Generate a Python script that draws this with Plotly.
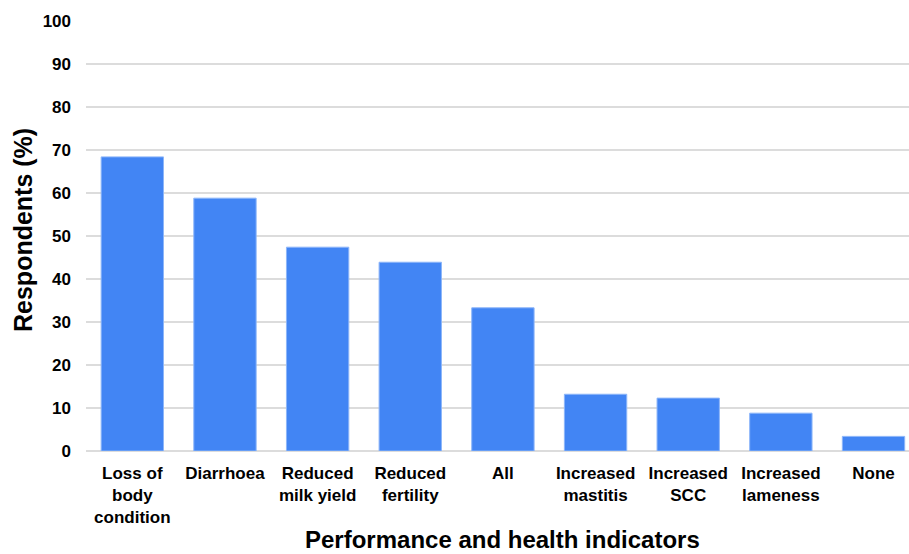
import plotly.graph_objects as go

# Share of respondents naming each performance/health indicator
categories = [
    "Loss of<br>body<br>condition",
    "Diarrhoea",
    "Reduced<br>milk yield",
    "Reduced<br>fertility",
    "All",
    "Increased<br>mastitis",
    "Increased<br>SCC",
    "Increased<br>lameness",
    "None",
]
respondents_pct = [68.4, 58.8, 47.4, 43.9, 33.3, 13.2, 12.3, 8.8, 3.4]
y_ticks = [0, 10, 20, 30, 40, 50, 60, 70, 80, 90, 100]

FONT = "Liberation Sans, Arial, Helvetica, sans-serif"
BAR_BLUE = "#4285F4"
GRID = "#dcdcdc"

fig = go.Figure(
    go.Bar(
        x=list(range(len(categories))),
        y=respondents_pct,
        width=0.673,
        marker=dict(color=BAR_BLUE, line=dict(color="#8DB6F9", width=1)),
        hoverinfo="y",
    )
)

fig.update_layout(
    width=909,
    height=554,
    margin=dict(l=86, r=0, t=21, b=103),
    plot_bgcolor="white",
    paper_bgcolor="white",
    showlegend=False,
    font=dict(family=FONT, size=17, color="black", weight="bold"),
    xaxis=dict(
        range=[-0.5, 8.383],
        tickmode="array",
        tickvals=list(range(len(categories))),
        ticktext=categories,
        showgrid=False,
        showline=False,
        zeroline=False,
        ticks="",
        ticklabelstandoff=10,
        tickfont=dict(family=FONT, size=17, color="black", weight="bold"),
    ),
    yaxis=dict(
        range=[0, 100],
        tickmode="array",
        tickvals=y_ticks,
        showgrid=True,
        gridcolor=GRID,
        gridwidth=1.5,
        zeroline=True,
        zerolinecolor=GRID,
        zerolinewidth=1.5,
        showline=False,
        ticks="",
        ticklabelstandoff=14,
        tickfont=dict(family=FONT, size=17, color="black", weight="bold"),
    ),
    annotations=[
        dict(
            text="Performance and health indicators",
            xref="paper", yref="paper",
            x=(503 - 86) / 823, y=-(539 - 451) / 430,
            xanchor="center", yanchor="middle",
            showarrow=False,
            font=dict(family=FONT, size=24, color="black", weight="bold"),
        ),
        dict(
            text="Respondents (%)",
            xref="paper", yref="paper",
            x=(23 - 86) / 823, y=(451 - 230) / 430,
            xanchor="center", yanchor="middle",
            textangle=-90,
            showarrow=False,
            font=dict(family=FONT, size=25, color="black", weight="bold"),
        ),
    ],
)

fig.write_html("out.html")
